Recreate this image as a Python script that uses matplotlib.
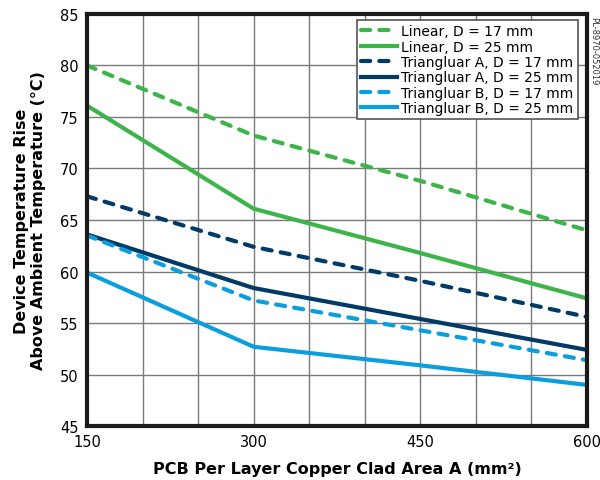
import matplotlib
matplotlib.use("Agg")
import matplotlib.pyplot as plt

area = [150, 300, 450, 600]
linear_17 = [80.0, 73.2, 68.8, 64.0]
linear_25 = [76.1, 66.1, 61.8, 57.4]
tri_a_17 = [67.3, 62.4, 59.1, 55.6]
tri_a_25 = [63.6, 58.4, 55.4, 52.4]
tri_b_17 = [63.5, 57.2, 54.3, 51.4]
tri_b_25 = [59.9, 52.7, 50.9, 49.0]

labels = ["Linear, D = 17 mm", "Linear, D = 25 mm",
          "Triangluar A, D = 17 mm", "Triangluar A, D = 25 mm",
          "Triangluar B, D = 17 mm", "Triangluar B, D = 25 mm"]

green = "#3cb449"
navy = "#003a66"
light = "#0a9edc"

fig = plt.figure(figsize=(6.0, 4.81), dpi=100)
ax = fig.add_axes([0.145, 0.112, 0.833, 0.857])

dash = (0, (2.2, 2.2))
lw = 3.0
ax.plot(area, linear_17, color=green, lw=lw, ls=dash, dash_capstyle="round", label=labels[0])
ax.plot(area, linear_25, color=green, lw=lw, label=labels[1])
ax.plot(area, tri_a_17, color=navy, lw=lw, ls=dash, dash_capstyle="round", label=labels[2])
ax.plot(area, tri_a_25, color=navy, lw=lw, label=labels[3])
ax.plot(area, tri_b_17, color=light, lw=lw, ls=dash, dash_capstyle="round", label=labels[4])
ax.plot(area, tri_b_25, color=light, lw=lw, label=labels[5])

ax.set_xlim(150, 600)
ax.set_ylim(45, 85)
ax.set_xticks([150, 300, 450, 600])
ax.set_xticks(range(150, 601, 50), minor=True)
ax.set_yticks(range(45, 86, 5))
ax.grid(True, which="both", color="#7a7a7a", lw=1.0)
ax.set_axisbelow(True)
ax.tick_params(which="both", length=0, labelsize=10.5, pad=6)
for s in ax.spines.values():
    s.set_linewidth(3)
    s.set_color("#1a1a1a")

ax.set_xlabel("PCB Per Layer Copper Clad Area A (mm²)", fontsize=11.5, fontweight="bold", labelpad=8)
ax.set_ylabel("Device Temperature Rise\nAbove Ambient Temperature (°C)", fontsize=11.5,
              fontweight="bold", labelpad=10)

leg = ax.legend(loc="upper right", fontsize=10, frameon=True, fancybox=False,
                handlelength=2.6, handletextpad=0.3, labelspacing=0.1,
                borderpad=0.3, bbox_to_anchor=(0.99, 0.995), borderaxespad=0.3)
leg.get_frame().set_edgecolor("#555555")
leg.get_frame().set_linewidth(1.2)
leg.get_frame().set_alpha(1)

fig.text(0.989, 0.965, "PL-8970-052019", rotation=270, fontsize=6, va="top", ha="center", color="#333333")

fig.savefig("out.png", dpi=100)
